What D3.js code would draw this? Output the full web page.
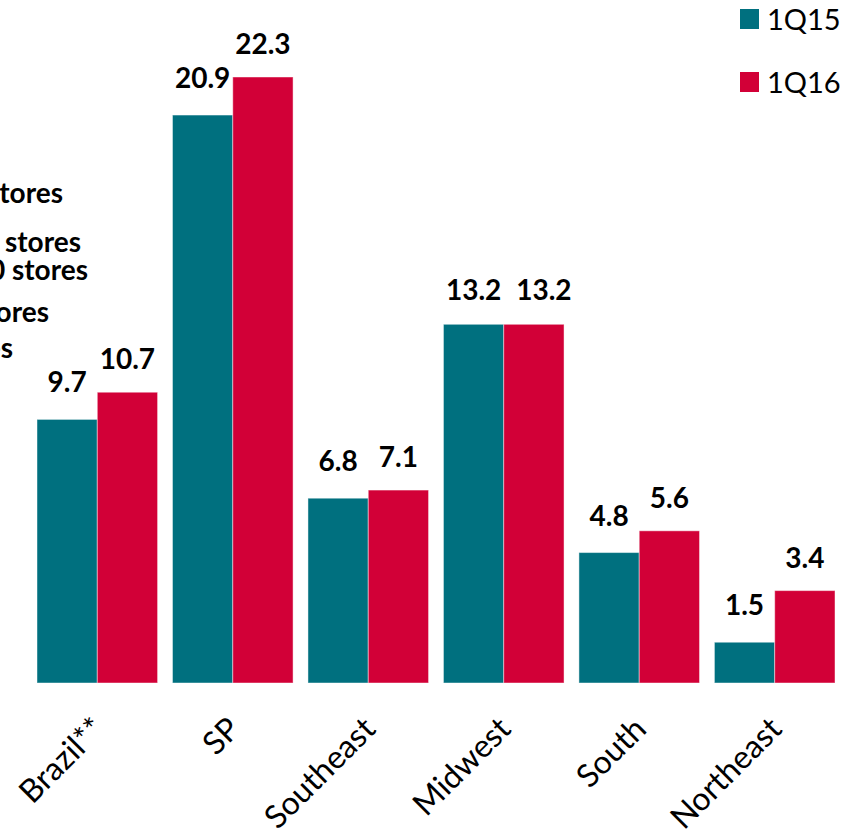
<!DOCTYPE html>
<html>
<head>
<meta charset="utf-8">
<script src="https://cdn.jsdelivr.net/npm/d3@7/dist/d3.min.js"></script>
<style>
  html, body { margin: 0; padding: 0; background: #fff; }
  svg { display: block; }
  text { font-family: Lato, "Open Sans", sans-serif; }
</style>
</head>
<body>
<svg id="chart" width="858" height="839"></svg>
<script>
// Regions and quarterly values (%)
const regions = ["Brazil**", "SP", "Southeast", "Midwest", "South", "Northeast"];
const series = ["1Q15", "1Q16"];
const values1Q15 = [9.7, 20.9, 6.8, 13.2, 4.8, 1.5];
const values1Q16 = [10.7, 22.3, 7.1, 13.2, 5.6, 3.4];
const seriesColors = ["#00707F", "#D20037"];

// Store-count notes at the left margin
const storeNotes = ["Up to 20 stores", "21 to 50 stores", "51 to 100 stores", "101 to 200 stores", "Above 200 stores"];

const svg = d3.select("#chart");
const baseY = 683;

const x0 = d3.scaleBand().domain(regions).range([37, 835]).paddingInner(0.11).paddingOuter(0);
const x1 = d3.scaleBand().domain(series).range([0, x0.bandwidth()]).padding(0);
const y = d3.scaleLinear().domain([0, 22.3]).range([baseY, 77]);
const color = d3.scaleOrdinal().domain(series).range(seriesColors);

const rows = regions.map((r, i) => ({ region: r, vals: [
  { key: "1Q15", value: values1Q15[i] },
  { key: "1Q16", value: values1Q16[i] }
]}));

// Left-margin notes (run off the page edge)
const noteX = [63, 81, 88, 49, 13];
const noteY = [203, 252, 280, 322, 358];
svg.append("g").selectAll("text").data(storeNotes).join("text")
  .attr("x", (d, i) => noteX[i])
  .attr("y", (d, i) => noteY[i])
  .attr("text-anchor", "end")
  .attr("font-weight", "bold")
  .attr("font-size", 28)
  .attr("fill", "#000")
  .text(d => d);

const groups = svg.append("g").selectAll("g").data(rows).join("g")
  .attr("transform", d => `translate(${x0(d.region)},0)`);

groups.selectAll("rect").data(d => d.vals).join("rect")
  .attr("x", d => x1(d.key))
  .attr("y", d => y(d.value))
  .attr("width", x1.bandwidth())
  .attr("height", d => baseY - y(d.value))
  .attr("fill", d => color(d.key))
  .attr("stroke", "rgba(255,255,255,0.45)")
  .attr("stroke-width", 1);

// Value labels (the paired equal Midwest labels are nudged apart)
const labelGap = { "1Q15": 27, "1Q16": 23 };
groups.selectAll("text.val").data(d => d.vals.map(v => ({ ...v, region: d.region }))).join("text")
  .attr("class", "val")
  .attr("x", d => x1(d.key) + x1.bandwidth() / 2 + (d.region === "Midwest" && d.key === "1Q16" ? 10 : 0))
  .attr("y", d => y(d.value) - (d.region === "Midwest" ? 24 : labelGap[d.key]))
  .attr("text-anchor", "middle")
  .attr("font-weight", "bold")
  .attr("font-size", 28)
  .attr("fill", "#000")
  .text(d => d.value.toFixed(1));

// Category axis (rotated labels, no line)
const xAxis = d3.axisBottom(x0).tickSize(0).tickPadding(0);
const axisG = svg.append("g").attr("transform", `translate(0,${baseY})`).call(xAxis);
axisG.select(".domain").remove();
axisG.selectAll(".tick text")
  .attr("font-family", "Lato, 'Open Sans', sans-serif")
  .attr("font-size", 32)
  .attr("fill", "#000")
  .attr("text-anchor", "end")
  .attr("dy", 0)
  .attr("y", 0)
  .attr("transform", "translate(9,48) rotate(-45)");

// Legend
const legend = svg.append("g").selectAll("g").data(series).join("g")
  .attr("transform", (d, i) => `translate(740,${9 + i * 63})`);
legend.append("rect")
  .attr("width", 19).attr("height", 20)
  .attr("fill", d => color(d));
legend.append("text")
  .attr("x", 27).attr("y", 21)
  .attr("font-size", 29)
  .attr("fill", "#000")
  .text(d => d);
</script>
</body>
</html>
